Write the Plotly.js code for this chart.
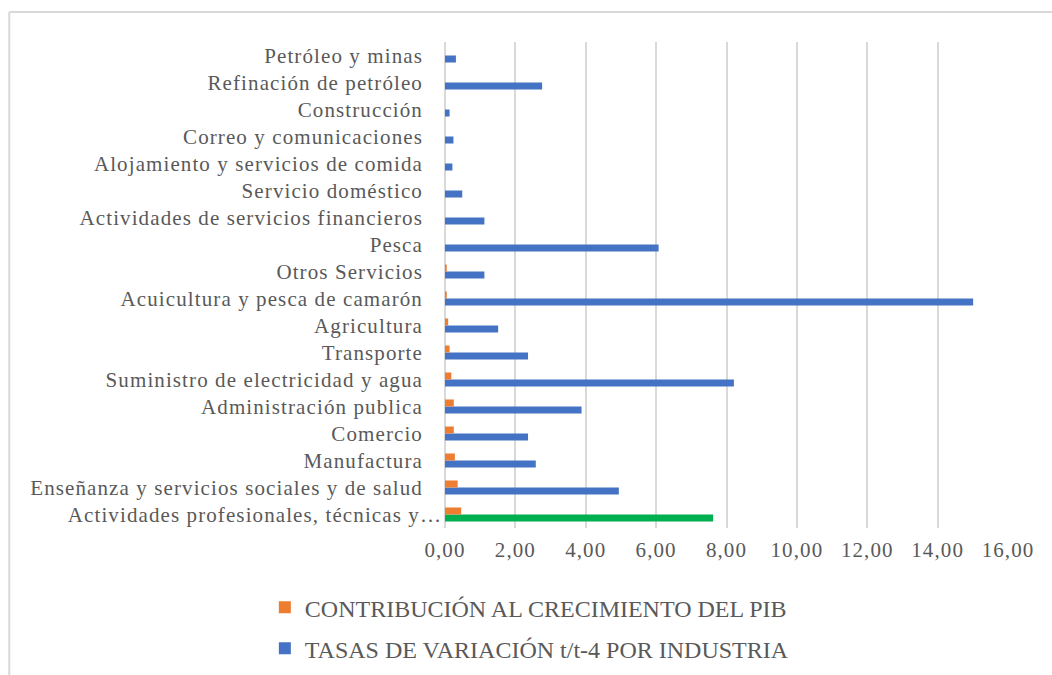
<!DOCTYPE html>
<html>
<head>
<meta charset="utf-8">
<script src="https://cdn.plot.ly/plotly-3.0.1.min.js"></script>
<style>
  html, body { margin: 0; padding: 0; background: #ffffff; }
  #chart { width: 1052px; height: 675px; }
  .xtick text, .ytick text { letter-spacing: 1.1px; }
</style>
</head>
<body>
<div id="chart"></div>
<script>
// Categories listed bottom to top (as drawn)
var categories = [
  "Actividades profesionales, técnicas y…",
  "Enseñanza y servicios sociales y de salud",
  "Manufactura",
  "Comercio",
  "Administración publica",
  "Suministro de electricidad y agua",
  "Transporte",
  "Agricultura",
  "Acuicultura y pesca de camarón",
  "Otros Servicios",
  "Pesca",
  "Actividades de servicios financieros",
  "Servicio doméstico",
  "Alojamiento y servicios de comida",
  "Correo y comunicaciones",
  "Construcción",
  "Refinación de petróleo",
  "Petróleo y minas"
];

var contribucion = [0.46, 0.36, 0.28, 0.25, 0.25, 0.18, 0.13, 0.09, 0.05, 0.05,
                    0, 0, 0, 0, 0, 0, 0, 0];

var tasas = [7.62, 4.94, 2.58, 2.36, 3.88, 8.21, 2.36, 1.51, 15.01, 1.12,
             6.07, 1.12, 0.49, 0.21, 0.24, 0.13, 2.76, 0.31];

var seriesNames = ["CONTRIBUCIÓN AL CRECIMIENTO DEL PIB", "TASAS DE VARIACIÓN t/t-4 POR INDUSTRIA"];
var tickVals = [0, 2, 4, 6, 8, 10, 12, 14, 16];

var ORANGE = "#ED7D31", BLUE = "#4472C4", GREEN = "#00B050";
var TEXT = "#595959", GRID = "#d9d9d9";
var FONT = "Liberation Serif, Times New Roman, serif";

var blueColors = categories.map(function (c, i) { return i === 0 ? GREEN : BLUE; });
var NBSP3 = "\u00a0\u00a0\u00a0";
var tickText = categories.map(function (c) { return c.slice(-1) === "…" ? c : c + NBSP3; });

// Points are passed top-to-bottom so the legend swatch takes the first (blue) point colour;
// the drawn order is fixed by categoryarray.
function rev(a) { return a.slice().reverse(); }

var traces = [
  {
    type: "bar", orientation: "h",
    name: seriesNames[1], y: rev(categories), x: rev(tasas),
    marker: { color: rev(blueColors), line: { width: 0 } },
    legend: "legend2", showlegend: true
  },
  {
    type: "bar", orientation: "h",
    name: seriesNames[0], y: rev(categories), x: rev(contribucion),
    marker: { color: ORANGE, line: { width: 0 } },
    legend: "legend", showlegend: true
  }
];

var legendCommon = {
  orientation: "h", xanchor: "left", yanchor: "middle",
  entrywidth: 600, entrywidthmode: "pixels",
  font: { family: FONT, size: 24, color: TEXT }, bgcolor: "rgba(0,0,0,0)",
  itemwidth: 30
};

var layout = {
  width: 1052, height: 675,
  margin: { l: 445, r: 44, t: 42, b: 147, pad: 0, autoexpand: false },
  paper_bgcolor: "#ffffff", plot_bgcolor: "#ffffff",
  font: { family: FONT, color: TEXT, size: 21 },
  barmode: "group", bargap: 0.48, bargroupgap: 0,
  xaxis: {
    range: [0, 16], tickvals: tickVals, tickformat: ".2f",
    showgrid: true, gridcolor: GRID, gridwidth: 2,
    zeroline: true, zerolinecolor: GRID, zerolinewidth: 2,
    showline: false, ticks: "", ticklabelstandoff: 7, automargin: false,
    tickfont: { family: FONT, size: 21, color: TEXT }, fixedrange: true
  },
  yaxis: {
    type: "category", categoryorder: "array", categoryarray: categories,
    tickvals: categories, ticktext: tickText,
    showgrid: false, zeroline: false, showline: false, ticks: "",
    ticklabelstandoff: 2, automargin: false,
    tickfont: { family: FONT, size: 21, color: TEXT }, fixedrange: true
  },
  separators: ",.",
  legend: Object.assign({}, legendCommon, { x: -0.32, y: -0.164 }),
  legend2: Object.assign({}, legendCommon, { x: -0.32, y: -0.248 }),
  shapes: [
    { type: "line", xref: "paper", yref: "paper", x0: -0.774, x1: 1.2, y0: 1.0617, y1: 1.0617,
      line: { color: GRID, width: 2 } },
    { type: "line", xref: "paper", yref: "paper", x0: -0.774, x1: -0.774, y0: 1.0617, y1: -0.4,
      line: { color: GRID, width: 2 } }
  ],
  showlegend: true
};

Plotly.newPlot("chart", traces, layout, { displayModeBar: false, staticPlot: true });
</script>
</body>
</html>
